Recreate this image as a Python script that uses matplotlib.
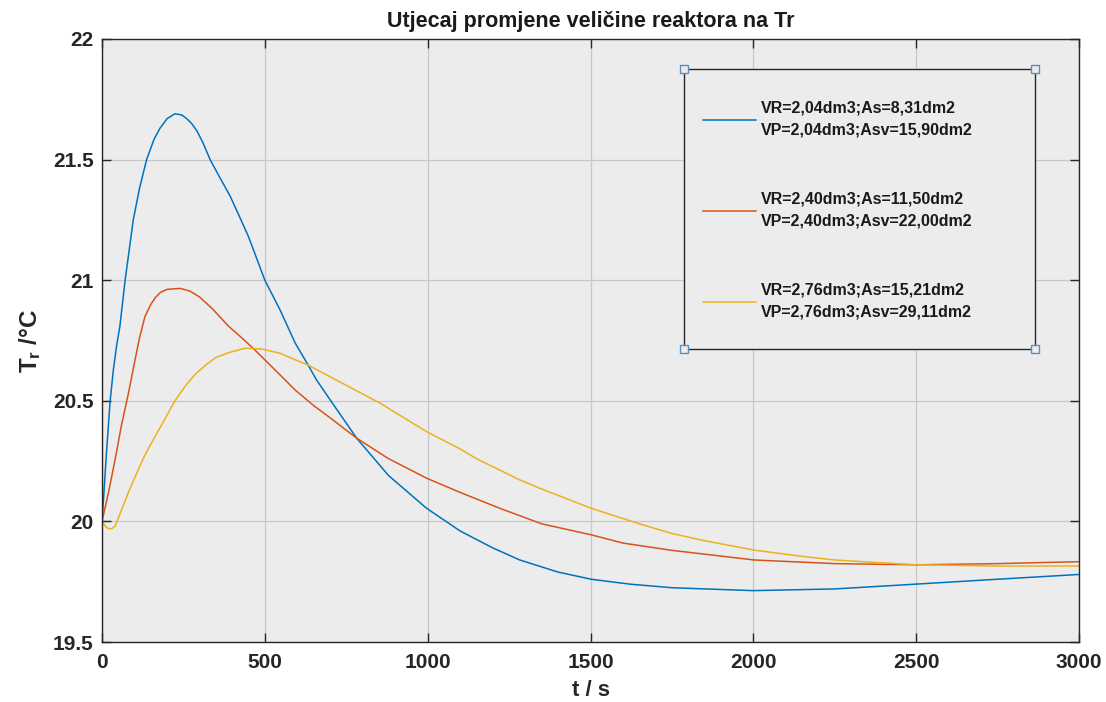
import numpy as np
import matplotlib
matplotlib.use("Agg")
from matplotlib import pyplot as plt
from matplotlib.patches import Rectangle

plt.rcParams['font.family'] = ['Liberation Sans', 'DejaVu Sans']
plt.rcParams['mathtext.fontset'] = 'custom'
plt.rcParams['mathtext.rm'] = 'Liberation Sans:bold'
plt.rcParams['mathtext.it'] = 'Liberation Sans:bold'
plt.rcParams['mathtext.bf'] = 'Liberation Sans:bold'

# Data (t in s, Tr in degC)
t_blue = [0, 5, 12, 25, 35, 45, 55, 71, 85, 96, 115, 137, 160, 178, 200, 224,
          245, 260, 275, 291, 310, 332, 360, 393, 420, 450, 500, 547, 593, 633,
          659, 700, 782, 880, 997, 1100, 1200, 1283, 1400, 1503, 1620, 1750,
          2000, 2250, 2500, 2747, 3000]
T_blue = [20.00, 20.10, 20.25, 20.50, 20.63, 20.73, 20.81, 21.00, 21.14, 21.25,
          21.38, 21.50, 21.585, 21.63, 21.67, 21.69, 21.685, 21.67, 21.65,
          21.62, 21.57, 21.50, 21.43, 21.35, 21.27, 21.18, 21.00, 20.876,
          20.74, 20.648, 20.586, 20.505, 20.345, 20.19, 20.054, 19.96, 19.89,
          19.84, 19.79, 19.76, 19.74, 19.725, 19.713, 19.72, 19.74, 19.76,
          19.78]

t_red = [0, 10, 20, 40, 60, 81, 100, 115, 132, 150, 165, 180, 200, 240, 270,
         300, 340, 388, 430, 470, 547, 593, 650, 700, 782, 880, 997, 1100, 1222,
         1350, 1503, 1600, 1750, 2003, 2250, 2500, 2750, 3000]
T_red = [20.00, 20.06, 20.12, 20.255, 20.40, 20.53, 20.66, 20.76, 20.85, 20.90,
         20.93, 20.95, 20.962, 20.966, 20.955, 20.93, 20.88, 20.81, 20.76, 20.71,
         20.607, 20.545, 20.48, 20.43, 20.345, 20.26, 20.179, 20.12, 20.054,
         19.99, 19.944, 19.91, 19.88, 19.84, 19.825, 19.82, 19.825, 19.833]

t_yel = [0, 10, 20, 30, 40, 55, 81, 100, 130, 160, 183, 224, 255, 286, 320, 350,
         390, 439, 490, 547, 593, 633, 700, 854, 997, 1100, 1150, 1283, 1345,
         1503, 1650, 1750, 1850, 2003, 2150, 2250, 2500, 2750, 3000]
T_yel = [20.00, 19.98, 19.97, 19.97, 19.98, 20.03, 20.12, 20.18, 20.27, 20.345,
         20.40, 20.50, 20.56, 20.61, 20.65, 20.68, 20.70, 20.718, 20.715, 20.697,
         20.67, 20.648, 20.60, 20.49, 20.372, 20.30, 20.26, 20.172, 20.137,
         20.054, 19.99, 19.95, 19.92, 19.881, 19.855, 19.84, 19.82, 19.815,
         19.815]

labels = ['VR=2,04dm3;As=8,31dm2\nVP=2,04dm3;Asv=15,90dm2',
          'VR=2,40dm3;As=11,50dm2\nVP=2,40dm3;Asv=22,00dm2',
          'VR=2,76dm3;As=15,21dm2\nVP=2,76dm3;Asv=29,11dm2']
colors = ['#0072BD', '#D95319', '#EDB120']

xticks = [0, 500, 1000, 1500, 2000, 2500, 3000]
yticks = [19.5, 20, 20.5, 21, 21.5, 22]
yticklabels = ['19.5', '20', '20.5', '21', '21.5', '22']

W, H = 1106, 702
fig = plt.figure(figsize=(W / 100, H / 100), dpi=100)
ax = fig.add_axes([102 / W, 1 - 642 / H, 977 / W, 603 / H])
ax.set_facecolor('#ececec')

lines = []
for t, T, c in zip([t_blue, t_red, t_yel], [T_blue, T_red, T_yel], colors):
    l, = ax.plot(t, T, color=c, lw=1.1)
    lines.append(l)

ax.set_xlim(0, 3000)
ax.set_ylim(19.5, 22)
ax.set_xticks(xticks)
ax.set_xticklabels([str(x) for x in xticks])
ax.set_yticks(yticks)
ax.set_yticklabels(yticklabels)
ax.grid(True, color='#c8c8c8', lw=0.9)
ax.set_axisbelow(True)
ax.tick_params(direction='in', length=6.5, width=1, top=True, right=True,
               labelsize=15, colors='#262626', pad=6)
ax.tick_params(axis='x', pad=8)
for lab in ax.get_xticklabels() + ax.get_yticklabels():
    lab.set_fontweight('bold')
for s in ax.spines.values():
    s.set_color('#262626')
    s.set_linewidth(1)

ax.set_title('Utjecaj promjene veličine reaktora na Tr', fontsize=15.5,
             fontweight='bold', color='#1a1a1a', pad=9)
ax.set_xlabel('t / s', fontsize=16, fontweight='bold', color='#262626', labelpad=6)
ax.set_ylabel(r'$T_r$ /°C', fontsize=17.5, fontweight='bold', color='#262626', labelpad=7)

# legend box (drawn by hand, with edit-mode corner handles)
x0, x1 = (684 - 102) / 977, (1035 - 102) / 977
y0, y1 = (642 - 349) / 603, (642 - 69) / 603
ax.add_patch(Rectangle((x0, y0), x1 - x0, y1 - y0, transform=ax.transAxes,
                       facecolor='#ececec', edgecolor='#262626', lw=1, zorder=5))
ax.plot([x0, x1, x0, x1], [y0, y0, y1, y1], ls='none', marker='s', ms=6,
        mfc='#ececec', mec='#5a8fc0', mew=1, transform=ax.transAxes,
        clip_on=False, zorder=6)
leg = ax.legend(lines, labels, loc='upper left', frameon=False,
                bbox_to_anchor=((703 - 102) / 977, (642 - 101) / 603),
                borderpad=0, borderaxespad=0,
                prop={'weight': 'bold', 'size': 11.5}, handlelength=3.3,
                handletextpad=0.3, labelspacing=3.4)
leg.set_zorder(7)
for txt in leg.get_texts():
    txt.set_color('#1a1a1a')
    txt.set_linespacing(1.55)

fig.savefig('out.png', dpi=100)
